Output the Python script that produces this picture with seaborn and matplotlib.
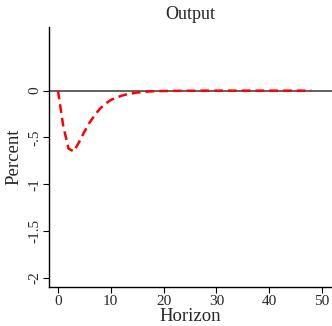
import matplotlib
matplotlib.use("Agg")
import matplotlib.pyplot as plt
import seaborn as sns
import pandas as pd

horizon = list(range(0, 49))
response = [0.0, -0.38, -0.62, -0.65, -0.55, -0.44, -0.34, -0.26, -0.19, -0.14,
            -0.10, -0.075, -0.055, -0.04, -0.03, -0.02, -0.015, -0.01, -0.007, -0.005,
            -0.004, -0.003, -0.002, -0.002, -0.001, -0.001, -0.001, 0.0, 0.0, 0.0,
            0.0, 0.0, 0.0, 0.0, 0.0, 0.0, 0.0, 0.0, 0.0, 0.0,
            0.0, 0.0, 0.0, 0.0, 0.0, 0.0, 0.0, 0.0, 0.0]
xticks = [0, 10, 20, 30, 40, 50]
yticks = [0, -0.5, -1, -1.5, -2]
ytick_labels = ["0", "-.5", "-1", "-1.5", "-2"]

sns.set_theme(style="ticks")
plt.rcParams['font.family'] = ['Liberation Serif', 'DejaVu Serif']

df = pd.DataFrame({"Horizon": horizon, "Percent": response})

fig = plt.figure(figsize=(3.32, 3.26), dpi=100)
ax = fig.add_axes([0.1476, 0.1196, 0.8524, 0.7974])
ax.axhline(0, color="#555555", lw=1.3, zorder=1)
sns.lineplot(data=df, x="Horizon", y="Percent", ax=ax, color="red",
             lw=1.8, linestyle=(0, (3.5, 2)), zorder=2)
ax.set_xlim(-1.7, 51.9)
ax.set_ylim(-2.1, 0.68)
ax.set_xticks(xticks)
ax.set_xticklabels([str(t) for t in xticks], fontsize=11)
ax.set_yticks(yticks)
ax.set_yticklabels(ytick_labels, fontsize=11, rotation=90, va="center")
ax.tick_params(direction="out", length=4, width=0.8, color="black", pad=1.5)
for s in ["top", "right"]:
    ax.spines[s].set_visible(False)
for s in ["left", "bottom"]:
    ax.spines[s].set_color("black")
    ax.spines[s].set_linewidth(1.0)
ax.set_xlabel("Horizon", fontsize=13.5, labelpad=0)
ax.set_ylabel("Percent", fontsize=13.5, labelpad=4)
ax.set_title("Output", fontsize=13, pad=6)
fig.savefig("out.png", dpi=100)
